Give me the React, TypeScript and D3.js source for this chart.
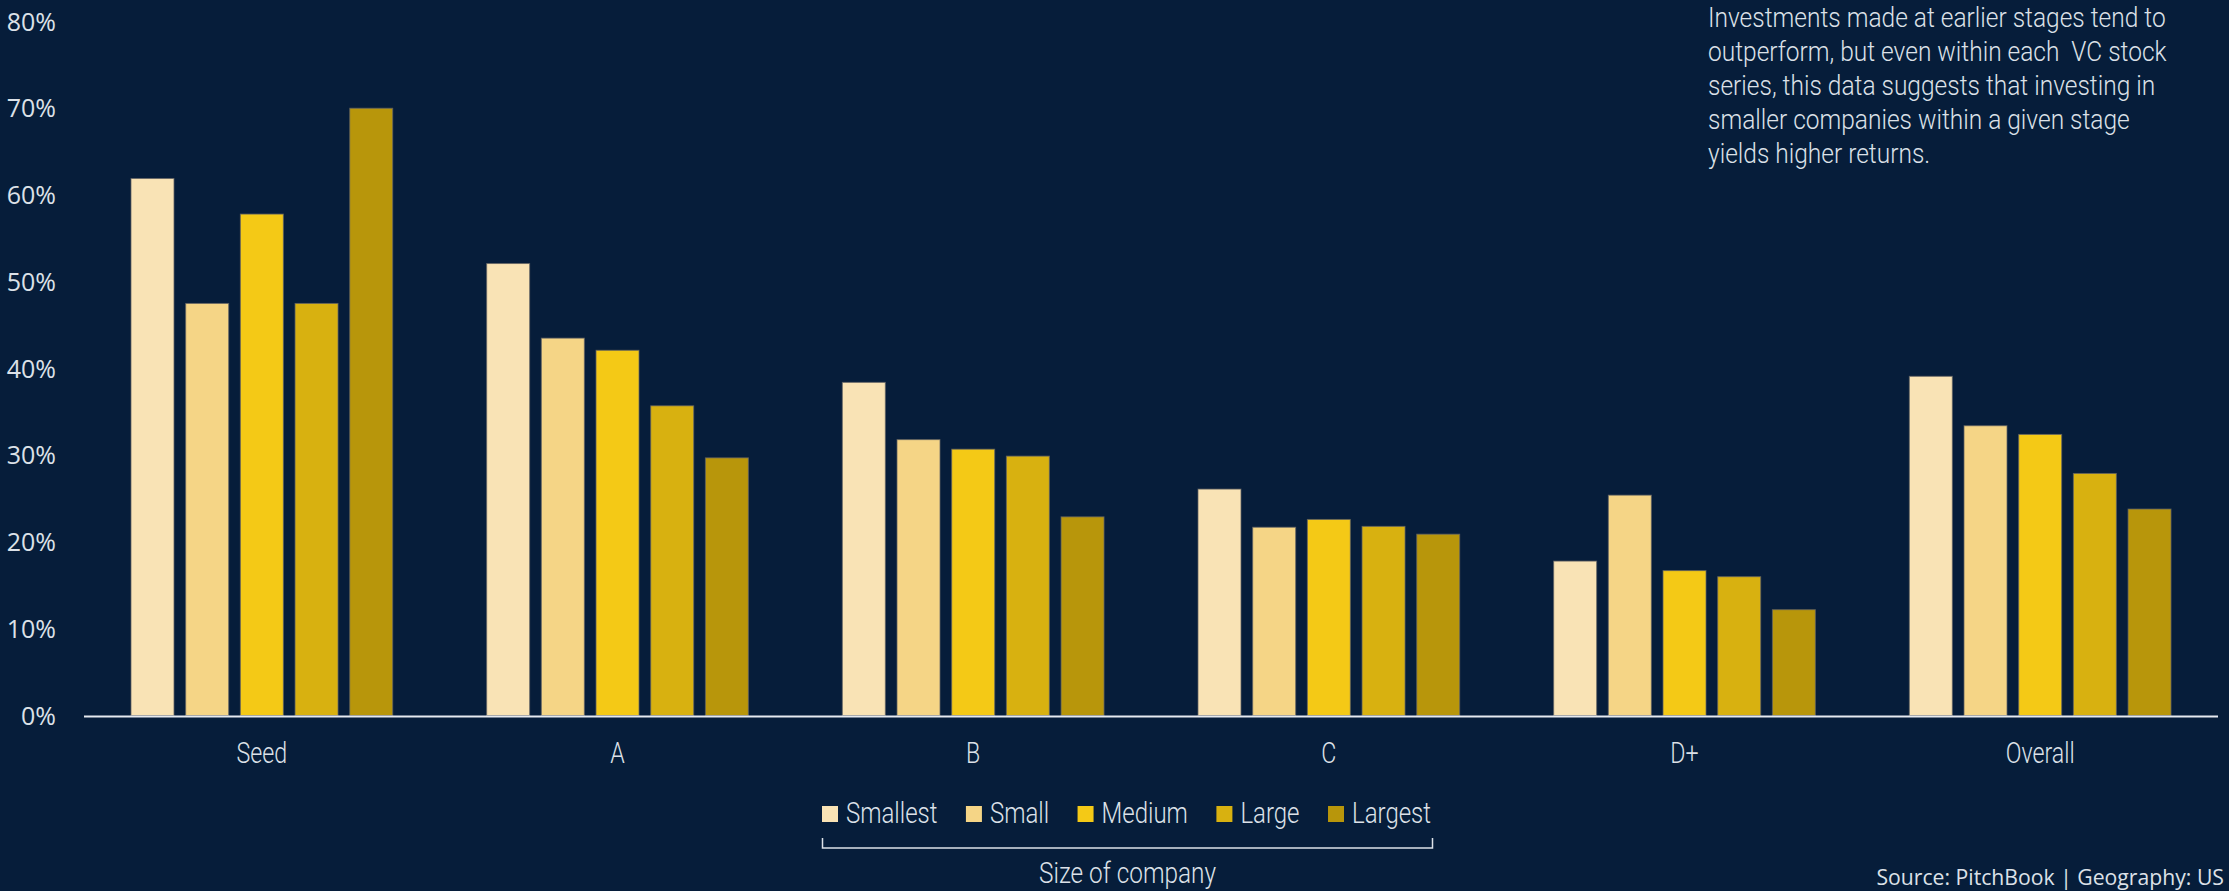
import React, { useEffect, useRef } from "react";
import * as d3 from "d3";

// Stage categories along the x axis
const categories = ["Seed", "A", "B", "C", "D+", "Overall"];
// Company size buckets (one bar each per stage)
const sizes = ["Smallest", "Small", "Medium", "Large", "Largest"];

// Returns (%) per stage for each size bucket
const smallest = [61.9, 52.1, 38.4, 26.1, 17.8, 39.1];
const small = [47.5, 43.5, 31.8, 21.7, 25.4, 33.4];
const medium = [57.8, 42.1, 30.7, 22.6, 16.7, 32.4];
const large = [47.5, 35.7, 29.9, 21.8, 16.0, 27.9];
const largest = [70.0, 29.7, 22.9, 20.9, 12.2, 23.8];

const yTicks = [0, 10, 20, 30, 40, 50, 60, 70, 80];

const sizeColors = ["#F9E3B5", "#F5D586", "#F4C916", "#D8B110", "#B8960B"];

const noteLines = [
  "Investments made at earlier stages tend to",
  "outperform, but even within each  VC stock",
  "series, this data suggests that investing in",
  "smaller companies within a given stage",
  "yields higher returns.",
];

const sourceText = "Source: PitchBook | Geography: US";
const bracketTitle = "Size of company";

const W = 2229;
const H = 891;
const BG = "#061D3A";
const TEXT = "#DCE1E8";
const COND_FONT = "Roboto";
const COND_SCALE = 0.8;

export default function App() {
  const ref = useRef<SVGSVGElement | null>(null);

  useEffect(() => {
    document.body.style.margin = "0";
    const svg = d3.select(ref.current);
    svg.selectAll("*").remove();

    svg.append("rect").attr("width", W).attr("height", H).attr("fill", BG);

    const series = [smallest, small, medium, large, largest];
    const rows = categories.map((c, i) => ({
      category: c,
      values: sizes.map((s, k) => ({ size: s, value: series[k][i] })),
    }));

    const x0 = d3.scaleBand<string>().domain(categories).range([84, 2218]);
    const x1 = d3
      .scaleBand<string>()
      .domain(sizes)
      .range([47, 308.7])
      .paddingInner(0.214);
    const y = d3.scaleLinear().domain([0, 80]).range([715.5, 21.5]);
    const color = d3.scaleOrdinal<string, string>().domain(sizes).range(sizeColors);

    // condensed light text helper
    const ctext = (
      parent: d3.Selection<any, any, any, any>,
      x: number,
      yy: number,
      str: string,
      size: number,
      anchor: string,
      sx = COND_SCALE
    ) => {
      const g = parent
        .append("g")
        .attr("transform", `translate(${x},${yy}) scale(${sx},1)`);
      return g
        .append("text")
        .attr("x", 0)
        .attr("y", 0)
        .attr("text-anchor", anchor)
        .attr("font-family", COND_FONT)
        .attr("font-weight", 300)
        .attr("font-size", size)
        .attr("fill", TEXT)
        .style("white-space", "pre")
        .text(str);
    };

    // y axis labels
    const yAxis = svg.append("g");
    yAxis
      .selectAll("text")
      .data(yTicks)
      .join("text")
      .attr("x", 56)
      .attr("y", (d) => y(d))
      .attr("dy", "0.36em")
      .attr("text-anchor", "end")
      .attr("font-family", "Open Sans")
      .attr("font-size", 25)
      .attr("fill", TEXT)
      .text((d) => `${d}%`);

    // bars
    const groups = svg
      .append("g")
      .selectAll("g")
      .data(rows)
      .join("g")
      .attr("transform", (d) => `translate(${x0(d.category)},0)`);
    groups
      .selectAll("rect")
      .data((d) => d.values)
      .join("rect")
      .attr("x", (d) => x1(d.size)!)
      .attr("y", (d) => y(d.value))
      .attr("width", x1.bandwidth())
      .attr("height", (d) => y(0) - y(d.value))
      .attr("fill", (d) => color(d.size))
      .attr("stroke", "rgba(100,100,100,0.75)")
      .attr("stroke-width", 1);

    // baseline
    svg
      .append("line")
      .attr("x1", x0.range()[0])
      .attr("x2", x0.range()[1])
      .attr("y1", y(0) + 1)
      .attr("y2", y(0) + 1)
      .attr("stroke", "#E6EAF0")
      .attr("stroke-width", 2);

    // category labels
    categories.forEach((c) => {
      ctext(svg, x0(c)! + x0.bandwidth() / 2, 763, c, 29, "middle");
    });

    // legend
    const legend = svg.append("g");
    let lx = 822;
    sizes.forEach((s) => {
      legend
        .append("rect")
        .attr("x", lx)
        .attr("y", 806)
        .attr("width", 16)
        .attr("height", 16)
        .attr("fill", color(s));
      const t = ctext(legend, lx + 24, 823, s, 30, "start");
      const w = (t.node() as SVGTextElement).getComputedTextLength() * COND_SCALE;
      lx += 24 + w + 28.5;
    });

    // bracket under legend
    const bx0 = 822.5;
    const bx1 = 1432.5;
    svg
      .append("path")
      .attr("d", `M${bx0},838 V848 H${bx1} V838`)
      .attr("fill", "none")
      .attr("stroke", TEXT)
      .attr("stroke-width", 1.5);
    ctext(svg, (bx0 + bx1) / 2, 883, bracketTitle, 29, "middle", 0.84);

    // note text
    noteLines.forEach((line, i) => {
      ctext(svg, 1708, 27 + i * 34, line, 28, "start", 0.875);
    });

    // source
    svg
      .append("text")
      .attr("x", 2224)
      .attr("y", 885)
      .attr("text-anchor", "end")
      .attr("font-family", "Open Sans")
      .attr("font-size", 21.2)
      .attr("fill", TEXT)
      .text(sourceText);
  }, []);

  return (
    <svg
      ref={ref}
      width={W}
      height={H}
      style={{ position: "absolute", left: 0, top: 0, display: "block" }}
    />
  );
}
